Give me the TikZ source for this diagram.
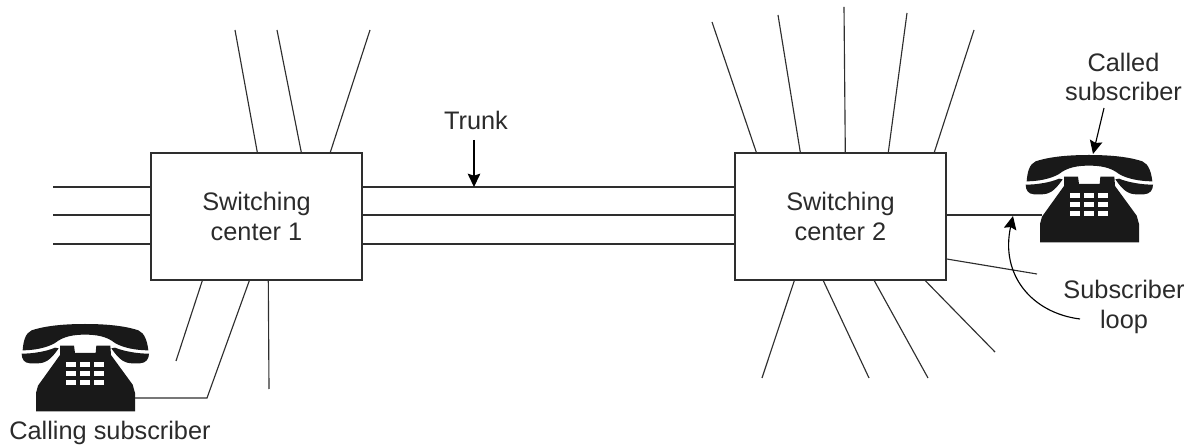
\documentclass[tikz,border=0pt]{standalone}
\usepackage{fontspec}
\setmainfont{Liberation Sans}
\usetikzlibrary{arrows.meta,calc}
\definecolor{ink}{gray}{0.18}
\definecolor{txt}{gray}{0.17}
\tikzset{
  wire/.style={draw=ink,line width=0.85pt},
  pointer/.style={draw=black,line width=0.85pt,-{Stealth[length=10pt,width=9.5pt,inset=1.5pt]}},
  switchbox/.style={draw=ink,line width=1.05pt,inner sep=0pt,minimum width=158.25pt,minimum height=95.25pt,align=center,font=\fontsize{19pt}{22pt}\selectfont,text=txt},
  lbl/.style={align=center,inner sep=0pt,font=\fontsize{19pt}{22pt}\selectfont,text=txt},
  pics/phone/.style={code={
    \begin{scope}[x=0.25pt,y=-0.25pt,shift={(-255,-133)}]
      \fill[black!90] (68,212) .. controls (70,185) and (76,160) .. (95,152)
        .. controls (140,137) and (200,133) .. (255,133)
        .. controls (310,133) and (370,137) .. (415,152)
        .. controls (434,160) and (442,185) .. (445,212)
        .. controls (410,212) and (370,205) .. (345,190)
        .. controls (320,170) and (290,165) .. (255,165)
        .. controls (220,165) and (190,170) .. (165,190)
        .. controls (140,205) and (100,212) .. (68,212) -- cycle;
      \fill[black!90] (65,222) .. controls (100,222) and (140,215) .. (165,204) -- (176,206)
        .. controls (160,228) and (145,250) .. (115,251) -- (90,251)
        .. controls (72,250) and (65,238) .. (65,222) -- cycle;
      \fill[black!90] (447,222) .. controls (412,222) and (372,215) .. (345,204) -- (334,206)
        .. controls (350,228) and (365,250) .. (395,251) -- (420,251)
        .. controls (438,250) and (447,238) .. (447,222) -- cycle;
      \fill[black!90] (180,198) -- (222,198) -- (225,220) -- (287,220) -- (289,198) -- (331,198)
        -- (333,226) -- (398,315) -- (405,340) -- (405,395) -- (108,395) -- (108,340) -- (114,318) -- (180,226) -- cycle;
      \foreach \kx in {199,241,283}
        \foreach \ky in {248,274,300}
          \fill[white] (\kx,\ky) rectangle ++(28,15);
    \end{scope}
  }}
}
\begin{document}
\begin{tikzpicture}[x=0.75pt,y=-0.75pt]
\useasboundingbox (0,0) rectangle (1191,448);

\node[switchbox] (box1) at (256.5,216.5) {Switching\\center 1};
\node[switchbox] (box2) at (840.5,216.5) {Switching\\center 2};

% phones
\path (85,324) pic {phone};
\path (1089,155) pic {phone};
\coordinate (phoneLjack) at (135,398);
\coordinate (phoneRjack) at (1042,215);
\coordinate (phoneRtop) at (1093,154);

% trunks
\foreach \dy in {-29.5,-1.5,27.5}
  \draw[wire] ($(box1.east)+(0,\dy)$) -- ($(box2.west)+(0,\dy)$);

% left free lines on box 1
\foreach \n/\dy/\yy in {a/-29.5/187,b/-1.5/215,c/27.5/244}{
  \coordinate (L\n) at (53,\yy);
  \draw[wire] (L\n) -- ($(box1.west)+(0,\dy)$);
}
% top of box 1
\foreach \n/\ex/\fx/\fy in {a/107/235/30,b/151/277/30,c/180/370/30}{
  \coordinate (T\n) at (\fx,\fy);
  \draw[wire] (T\n) -- ($(box1.north west)+(\ex,0)$);
}
% bottom of box 1
\coordinate (Ba) at (176,361);
\coordinate (Bb) at (207,398);
\coordinate (Bc) at (269,389);
\draw[wire] ($(box1.south west)+(52,0)$) -- (Ba);
\draw[wire] ($(box1.south west)+(99,0)$) -- (Bb) -- (phoneLjack);
\draw[wire] ($(box1.south west)+(118,0)$) -- (Bc);

% top of box 2
\foreach \n/\ex/\fx/\fy in {a/22/712/22,b/66/778/15,c/111/844/7,d/154/907/13,e/200/974/30}{
  \coordinate (U\n) at (\fx,\fy);
  \draw[wire] (U\n) -- ($(box2.north west)+(\ex,0)$);
}
% bottom of box 2
\foreach \n/\ex/\fx/\fy in {a/60/762/378,b/89/869/378,c/140/928/378,d/191/995/352}{
  \coordinate (V\n) at (\fx,\fy);
  \draw[wire] ($(box2.south west)+(\ex,0)$) -- (V\n);
}
% right of box 2
\draw[wire] ($(box2.east)+(0,-1.5)$) -- (phoneRjack);
\coordinate (Rfree) at (1037,274);
\draw[wire] ($(box2.east)+(0,42.5)$) -- (Rfree);

% labels
\node[lbl] (trunk) at (476,120) {Trunk};
\node[lbl] (called) at (1123.5,77) {Called\\subscriber};
\node[lbl] (loop) at (1124,307) {Subscriber\\loop};
\node[lbl] (calling) at (110,433) {Calling subscriber};

% pointers
\coordinate (trunkTip) at (474,187);
\coordinate (trunkTail) at (474,140);
\draw[pointer] (trunkTail) -- (trunkTip);
\coordinate (calledTail) at (1104,108);
\draw[pointer] (calledTail) -- (phoneRtop);
\coordinate (loopTail) at (1080,319);
\coordinate (loopTip) at (1013,216);
\draw[pointer] (loopTail) .. controls (1032,313) and (1000,275) .. (loopTip);
\end{tikzpicture}
\end{document}
